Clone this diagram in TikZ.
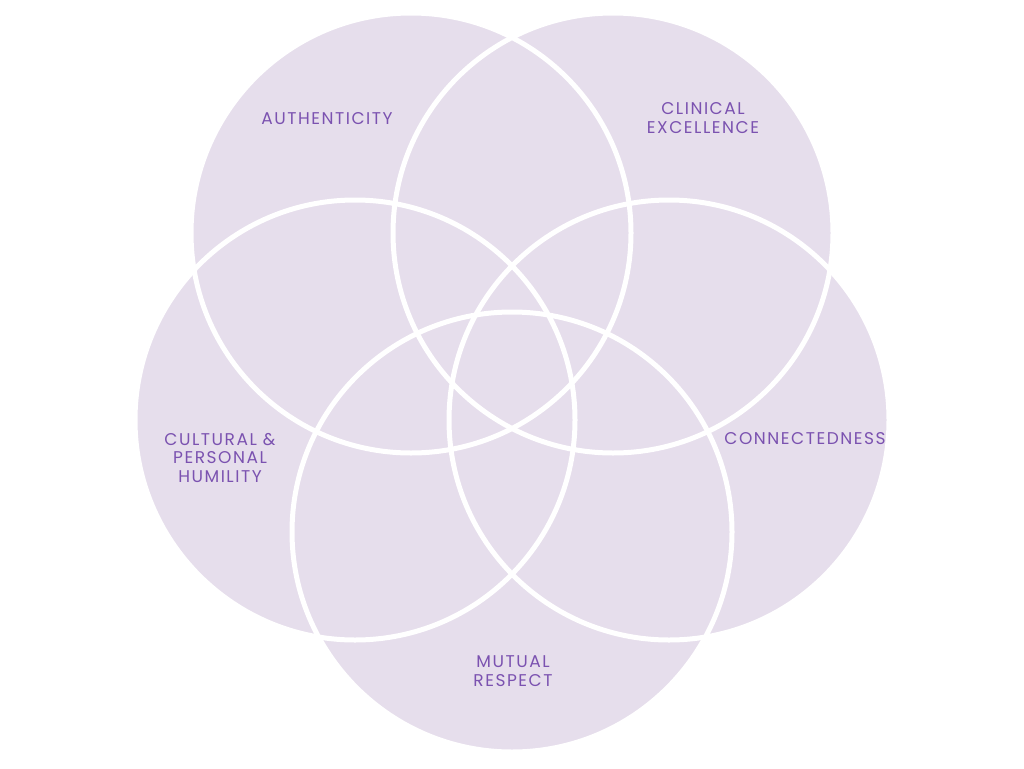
\documentclass[tikz,border=0pt]{standalone}
\usepackage{fontspec}
\setmainfont{Poppins}[LetterSpace=9]
\definecolor{lav}{HTML}{E6DEEC}
\definecolor{txt}{HTML}{7B52B0}
\begin{document}
\begin{tikzpicture}[x=1pt,y=-1pt,
  petal/.style={fill=lav},
  rim/.style={draw=white,line width=5pt},
  lbl/.style={text=txt,font=\fontsize{17}{18.5}\selectfont,align=center,inner sep=0pt}]
\useasboundingbox (0,0) rectangle (1024,768);
\coordinate (c1) at (411,233);
\coordinate (c2) at (613,233);
\coordinate (c3) at (669,420);
\coordinate (c4) at (355,420);
\coordinate (c5) at (512,532);
\foreach \c in {c1,c2,c3,c4,c5} \fill[petal] (\c) circle[radius=220];
\foreach \c in {c1,c2,c3,c4,c5} \draw[rim] (\c) circle[radius=220];
\node[lbl] (a) at (327,119) {AUTHENTICITY};
\node[lbl] (b) at (703,118) {CLINICAL\\EXCELLENCE};
\node[lbl] (c) at (805,439) {CONNECTEDNESS};
\node[lbl] (d) at (220,458) {CULTURAL \&\\PERSONAL\\HUMILITY};
\node[lbl] (e) at (513,671) {MUTUAL\\RESPECT};
\end{tikzpicture}
\end{document}
